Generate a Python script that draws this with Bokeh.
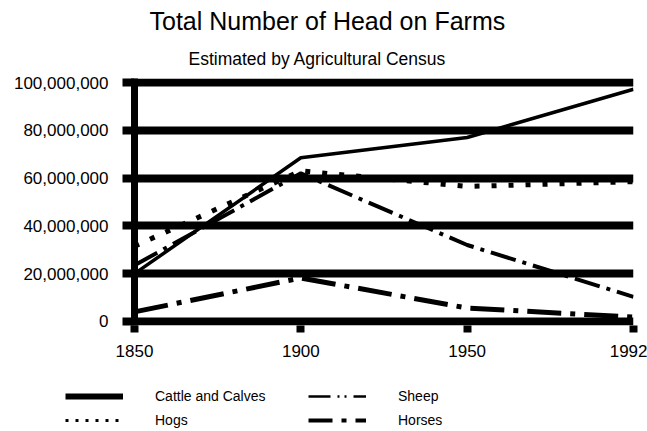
from bokeh.plotting import figure
from bokeh.layouts import column
from bokeh.models import Legend, LegendItem, FixedTicker, NumeralTickFormatter, Range1d, Title
from bokeh.embed import file_html
from bokeh.resources import INLINE

# Data
years = ["1850", "1900", "1950", "1992"]
cattle = [20.0e6, 68.5e6, 77.0e6, 97.2e6]
hogs = [31.5e6, 63.0e6, 56.5e6, 58.5e6]
sheep = [23.5e6, 62.0e6, 32.0e6, 10.3e6]
horses = [4.0e6, 18.2e6, 5.6e6, 1.8e6]
y_ticks = [0, 20e6, 40e6, 60e6, 80e6, 100e6]

xs = list(range(len(years)))
FONT = "Liberation Sans"

SERIES = {
    "Cattle and Calves": (cattle, dict(line_color="black", line_width=3.5)),
    "Hogs": (hogs, dict(line_color="black", line_width=5, line_dash="5 12", line_cap="butt")),
    "Sheep": (sheep, dict(line_color="black", line_width=4, line_dash="26 7 4 7")),
    "Horses": (horses, dict(line_color="black", line_width=5, line_dash="34 9 5 9")),
}
LEGEND_STYLES = {
    "Cattle and Calves": dict(line_color="black", line_width=6),
    "Hogs": dict(line_color="black", line_width=3, line_dash="3 7", line_cap="butt"),
    "Sheep": dict(line_color="black", line_width=2.5, line_dash="22 7 2 5 2 7"),
    "Horses": dict(line_color="black", line_width=4, line_dash="24 9 5 9"),
}

p = figure(width=647, height=370, output_backend="svg", toolbar_location=None,
           x_range=Range1d(0, len(years) - 1), y_range=Range1d(-1.7e6, 101.7e6),
           min_border_left=134, min_border_right=14, min_border_top=78, min_border_bottom=45)
p.outline_line_color = None
p.background_fill_color = "white"
p.border_fill_color = "white"
p.frame_align = False

# titles
p.title.text = "Total Number of Head on Farms"
p.title.text_font = FONT
p.title.text_font_size = "25px"
p.title.text_font_style = "normal"
p.title.text_color = "black"
p.title.align = "left"
p.title.offset = 15
p.title.standoff = 4
p.add_layout(Title(text="Estimated by Agricultural Census", text_font=FONT, text_font_size="17.5px",
                   text_font_style="normal", text_color="black", align="left", offset=54,
                   standoff=20), "above")

# grid
p.xgrid.visible = False
p.ygrid.grid_line_color = "black"
p.ygrid.grid_line_width = 8

# y axis
p.yaxis.ticker = FixedTicker(ticks=y_ticks)
p.yaxis.formatter = NumeralTickFormatter(format="0,0")
p.yaxis.axis_line_color = "black"
p.yaxis.axis_line_width = 7
p.yaxis.major_tick_out = 12
p.yaxis.major_tick_in = 0
p.yaxis.major_tick_line_width = 8
p.yaxis.minor_tick_line_color = None
p.yaxis.major_label_text_font = FONT
p.yaxis.major_label_text_font_size = "17px"
p.yaxis.major_label_text_color = "black"
p.yaxis.major_label_standoff = 14

# x axis
p.xaxis.ticker = FixedTicker(ticks=xs)
p.xaxis.major_label_overrides = {i: y for i, y in zip(xs, years)}
p.xaxis.axis_line_color = None
p.xaxis.major_tick_out = 7
p.xaxis.major_tick_in = 0
p.xaxis.major_tick_line_width = 8
p.xaxis.minor_tick_line_color = None
p.xaxis.major_label_text_font = FONT
p.xaxis.major_label_text_font_size = "17px"
p.xaxis.major_label_text_color = "black"
p.xaxis.major_label_standoff = 12

# series
for name, (vals, st) in SERIES.items():
    p.line(xs, vals, **st)

# legend panel (separate figure below the chart, so it is not clipped)
lg = figure(width=647, height=61, output_backend="svg", toolbar_location=None,
            x_range=Range1d(0, 1), y_range=Range1d(0, 1),
            x_axis_type=None, y_axis_type=None, min_border=0)
lg.outline_line_color = None
lg.xgrid.visible = False
lg.ygrid.visible = False
lg.border_fill_color = "white"
lg.frame_align = False

# same series drawn in the legend figure, outside its visible range (only used for legend glyphs)
leg_renderers = {name: lg.line(xs, vals, **LEGEND_STYLES[name]) for name, (vals, st) in SERIES.items()}

def make_legend(names, loc):
    return Legend(items=[LegendItem(label=n, renderers=[leg_renderers[n]]) for n in names],
                  location=loc, glyph_width=58, glyph_height=20,
                  label_standoff=32, spacing=4, padding=0, margin=0,
                  border_line_color=None, background_fill_alpha=0,
                  label_text_font=FONT, label_text_font_size="14px", label_text_color="black",
                  label_height=20)

lg.add_layout(make_legend(["Cattle and Calves", "Hogs"], (65, 1)))
lg.add_layout(make_legend(["Sheep", "Horses"], (308, 1)))

layout = column(p, lg, spacing=0)
open("out.html", "w").write(file_html(layout, INLINE))
